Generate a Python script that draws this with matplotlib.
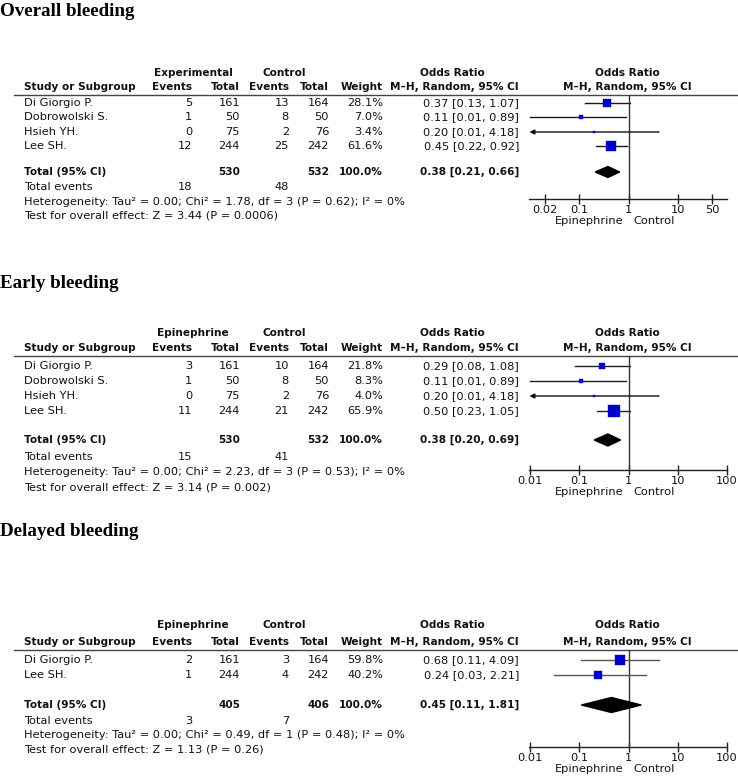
import matplotlib
matplotlib.use("Agg")
import matplotlib.pyplot as plt

# ---------------- data ----------------
titles = ["Overall bleeding", "Early bleeding", "Delayed bleeding"]
group_labels = ["Experimental", "Epinephrine", "Epinephrine"]

overall_studies = ["Di Giorgio P.", "Dobrowolski S.", "Hsieh YH.", "Lee SH."]
overall_exp_events = [5, 1, 0, 12]
overall_exp_total = [161, 50, 75, 244]
overall_ctrl_events = [13, 8, 2, 25]
overall_ctrl_total = [164, 50, 76, 242]
overall_weight = [28.1, 7.0, 3.4, 61.6]
overall_or = [0.37, 0.11, 0.20, 0.45]
overall_lo = [0.13, 0.01, 0.01, 0.22]
overall_hi = [1.07, 0.89, 4.18, 0.92]
overall_total = [530, 532]
overall_total_or = [0.38, 0.21, 0.66]
overall_total_events = [18, 48]
overall_het = ["0.00", "1.78", "3", "0.62", "0%"]
overall_test = ["3.44", "0.0006"]
overall_ticks = [0.02, 0.1, 1, 10, 50]
overall_ticklabels = ["0.02", "0.1", "1", "10", "50"]

early_studies = ["Di Giorgio P.", "Dobrowolski S.", "Hsieh YH.", "Lee SH."]
early_exp_events = [3, 1, 0, 11]
early_exp_total = [161, 50, 75, 244]
early_ctrl_events = [10, 8, 2, 21]
early_ctrl_total = [164, 50, 76, 242]
early_weight = [21.8, 8.3, 4.0, 65.9]
early_or = [0.29, 0.11, 0.20, 0.50]
early_lo = [0.08, 0.01, 0.01, 0.23]
early_hi = [1.08, 0.89, 4.18, 1.05]
early_total = [530, 532]
early_total_or = [0.38, 0.20, 0.69]
early_total_events = [15, 41]
early_het = ["0.00", "2.23", "3", "0.53", "0%"]
early_test = ["3.14", "0.002"]
early_ticks = [0.01, 0.1, 1, 10, 100]
early_ticklabels = ["0.01", "0.1", "1", "10", "100"]

delayed_studies = ["Di Giorgio P.", "Lee SH."]
delayed_exp_events = [2, 1]
delayed_exp_total = [161, 244]
delayed_ctrl_events = [3, 4]
delayed_ctrl_total = [164, 242]
delayed_weight = [59.8, 40.2]
delayed_or = [0.68, 0.24]
delayed_lo = [0.11, 0.03]
delayed_hi = [4.09, 2.21]
delayed_total = [405, 406]
delayed_total_or = [0.45, 0.11, 1.81]
delayed_total_events = [3, 7]
delayed_het = ["0.00", "0.49", "1", "0.48", "0%"]
delayed_test = ["1.13", "0.26"]
delayed_ticks = [0.01, 0.1, 1, 10, 100]
delayed_ticklabels = ["0.01", "0.1", "1", "10", "100"]

panels = [
    dict(studies=overall_studies, ee=overall_exp_events, et=overall_exp_total,
         ce=overall_ctrl_events, ct=overall_ctrl_total, w=overall_weight,
         orv=overall_or, lo=overall_lo, hi=overall_hi, tot=overall_total,
         tor=overall_total_or, tev=overall_total_events, het=overall_het,
         test=overall_test, ticks=overall_ticks, tlabels=overall_ticklabels),
    dict(studies=early_studies, ee=early_exp_events, et=early_exp_total,
         ce=early_ctrl_events, ct=early_ctrl_total, w=early_weight,
         orv=early_or, lo=early_lo, hi=early_hi, tot=early_total,
         tor=early_total_or, tev=early_total_events, het=early_het,
         test=early_test, ticks=early_ticks, tlabels=early_ticklabels),
    dict(studies=delayed_studies, ee=delayed_exp_events, et=delayed_exp_total,
         ce=delayed_ctrl_events, ct=delayed_ctrl_total, w=delayed_weight,
         orv=delayed_or, lo=delayed_lo, hi=delayed_hi, tot=delayed_total,
         tor=delayed_total_or, tev=delayed_total_events, het=delayed_het,
         test=delayed_test, ticks=delayed_ticks, tlabels=delayed_ticklabels),
]

# ---------------- layout (pixels) ----------------
W, H = 738, 782
layouts = [
    dict(title=11, h1=73, h2=87, line=95, rows=[103, 117.5, 132, 146], total=172,
         events=187, het=202, test=216, axis=199, dh=5.5, ci="#1a1a1a"),
    dict(title=283, h1=333, h2=348, line=356, rows=[366, 381, 396, 411], total=440,
         events=457, het=472, test=487, axis=470, dh=6, ci="#222222"),
    dict(title=531, h1=625, h2=642, line=650, rows=[660, 675], total=705,
         events=721, het=735, test=750, axis=747, dh=7.5, ci="#555555"),
]

FS = 8.2
FSB = 7.6
SANS = "DejaVu Sans"
TXT = "#111111"
X_STUDY, X_EE, X_ET, X_CE, X_CT, X_W, X_OR = 24, 192, 240, 289, 329, 383, 519
X_GRP, X_CTRL, X_ORH = 193, 284, 452
AX_L, AX_R = 529, 727

fig = plt.figure(figsize=(W / 100, H / 100), dpi=100)
bg = fig.add_axes([0, 0, 1, 1])
bg.set_xlim(0, W)
bg.set_ylim(H, 0)
bg.axis("off")


def t(x, y, s, ha="left", bold=False, **kw):
    bg.text(x, y, s, ha=ha, va="center", fontsize=FSB if bold else FS, color=TXT,
            fontweight="bold" if bold else "normal", family=SANS, **kw)


for p, L, title, grp in zip(panels, layouts, titles, group_labels):
    bg.text(0, L["title"], title, ha="left", va="center", fontsize=13.7,
            fontweight="bold", family="Liberation Serif", color="black")
    # headers
    t(X_GRP, L["h1"], grp, ha="center", bold=True)
    t(X_CTRL, L["h1"], "Control", ha="center", bold=True)
    t(X_ORH, L["h1"], "Odds Ratio", ha="center", bold=True)
    t(627, L["h1"], "Odds Ratio", ha="center", bold=True)
    t(X_STUDY, L["h2"], "Study or Subgroup", bold=True)
    t(X_EE, L["h2"], "Events", ha="right", bold=True)
    t(X_ET, L["h2"], "Total", ha="right", bold=True)
    t(X_CE, L["h2"], "Events", ha="right", bold=True)
    t(X_CT, L["h2"], "Total", ha="right", bold=True)
    t(X_W, L["h2"], "Weight", ha="right", bold=True)
    t(X_OR, L["h2"], "M\u2013H, Random, 95% CI", ha="right", bold=True)
    t(627, L["h2"], "M\u2013H, Random, 95% CI", ha="center", bold=True)
    bg.plot([14, W], [L["line"], L["line"]], color="#444444", lw=1.0)

    for i, y in enumerate(L["rows"][:len(p["studies"])]):
        t(X_STUDY, y, p["studies"][i])
        t(X_EE, y, str(p["ee"][i]), ha="right")
        t(X_ET, y, str(p["et"][i]), ha="right")
        t(X_CE, y, str(p["ce"][i]), ha="right")
        t(X_CT, y, str(p["ct"][i]), ha="right")
        t(X_W, y, f"{p['w'][i]:.1f}%", ha="right")
        t(X_OR, y, f"{p['orv'][i]:.2f} [{p['lo'][i]:.2f}, {p['hi'][i]:.2f}]", ha="right")

    t(X_STUDY, L["total"], "Total (95% CI)", bold=True)
    t(X_ET, L["total"], str(p["tot"][0]), ha="right", bold=True)
    t(X_CT, L["total"], str(p["tot"][1]), ha="right", bold=True)
    t(X_W, L["total"], "100.0%", ha="right", bold=True)
    tor = p["tor"]
    t(X_OR, L["total"], f"{tor[0]:.2f} [{tor[1]:.2f}, {tor[2]:.2f}]", ha="right", bold=True)
    t(X_STUDY, L["events"], "Total events")
    t(X_EE, L["events"], str(p["tev"][0]), ha="right")
    t(X_CE, L["events"], str(p["tev"][1]), ha="right")
    h = p["het"]
    t(X_STUDY, L["het"],
      f"Heterogeneity: Tau\u00b2 = {h[0]}; Chi\u00b2 = {h[1]}, df = {h[2]} (P = {h[3]}); I\u00b2 = {h[4]}")
    t(X_STUDY, L["test"], f"Test for overall effect: Z = {p['test'][0]} (P = {p['test'][1]})")

    # forest axes
    ax = fig.add_axes([AX_L / W, 1 - L["axis"] / H, (AX_R - AX_L) / W,
                       (L["axis"] - L["line"]) / H])
    ax.set_xscale("log")
    ax.set_xlim(0.0095, 100)
    ax.set_ylim(L["axis"], L["line"])
    ax.patch.set_alpha(0)
    for s in ["top", "left", "right"]:
        ax.spines[s].set_visible(False)
    ax.spines["bottom"].set_color("#222222")
    ax.spines["bottom"].set_linewidth(1.0)
    ax.set_yticks([])
    ax.set_xticks(p["ticks"])
    ax.set_xticklabels(p["tlabels"], fontsize=FS, family=SANS, color=TXT)
    ax.minorticks_off()
    ax.tick_params(axis="x", direction="inout", length=7, width=1, pad=1,
                   color="#222222")
    ax.axvline(1, color="#333333", lw=1.0)

    for i, y in enumerate(L["rows"][:len(p["studies"])]):
        lo = p["lo"][i]
        if lo <= 0.01 and p["hi"][i] > 2:
            ax.annotate("", xy=(0.0097, y), xytext=(p["hi"][i], y),
                        arrowprops=dict(arrowstyle="-|>", color="#111111", lw=1.0,
                                        mutation_scale=7, shrinkA=0, shrinkB=0))
        else:
            ax.plot([lo, p["hi"][i]], [y, y], color=L["ci"], lw=1.0)
        side = max(2.5, 1.4 * p["w"][i] ** 0.5)
        ax.plot([p["orv"][i]], [y], marker="s", ms=side * 0.72, mfc="#0000C8",
                mec="#0000C8", mew=0.3, ls="none", zorder=3)

    yc = L["total"]
    dh = L["dh"]
    ax.fill([tor[1], tor[0], tor[2], tor[0]], [yc, yc - dh, yc, yc + dh],
            color="black", zorder=3)
    ax.text(0.8, L["axis"] + 22, "Epinephrine", ha="right", va="center",
            fontsize=FS, family=SANS, color=TXT, clip_on=False)
    ax.text(1.25, L["axis"] + 22, "Control", ha="left", va="center",
            fontsize=FS, family=SANS, color=TXT, clip_on=False)

fig.savefig("out.png", dpi=100)
